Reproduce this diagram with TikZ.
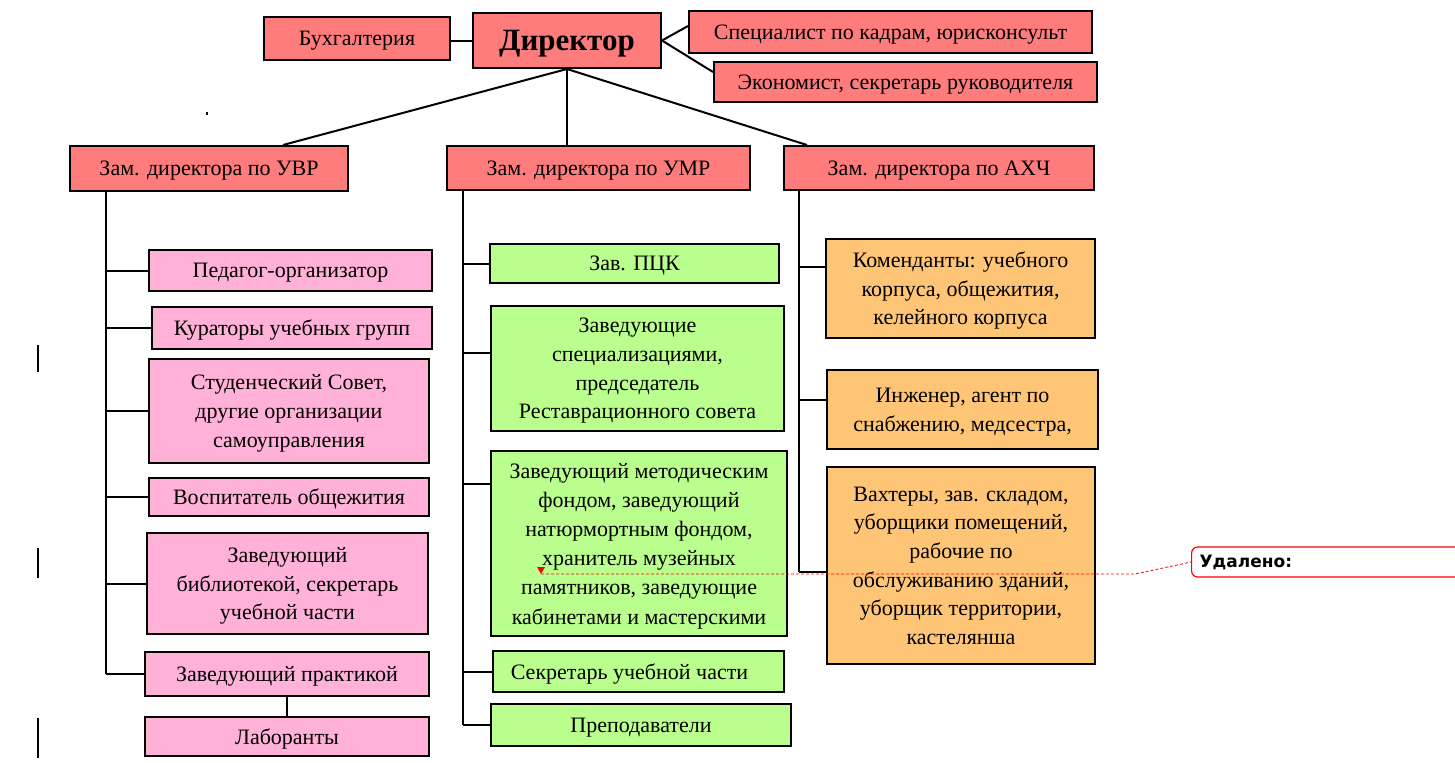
\documentclass[tikz,border=0pt]{standalone}
\usepackage{fontspec}
\setmainfont{Liberation Serif}
\newfontfamily\notefont{DejaVu Sans}
\usetikzlibrary{positioning, calc}

\definecolor{headred}{RGB}{255,124,124}
\definecolor{uvrpink}{RGB}{255,177,215}
\definecolor{umrgreen}{RGB}{186,255,142}
\definecolor{ahchorange}{RGB}{255,197,118}

\begin{document}
\begin{tikzpicture}[
	x=0.5pt, y=-0.5pt,
	box/.style = {draw, line width=1pt, align=center, inner sep=2pt, text depth=0pt, font=\fontsize{11}{14.3}\selectfont},
	head/.style = {box, fill=headred},
	uvrbox/.style = {box, fill=uvrpink},
	umrbox/.style = {box, fill=umrgreen},
	ahchbox/.style = {box, fill=ahchorange},
	link/.style = {line width=1pt},
	change/.style = {line width=1pt},
	note/.style = {red, line width=0.4pt, dash pattern=on 1.5pt off 1pt}
]
\useasboundingbox (0,0) rectangle (1455,762);

% top level
\node[head, minimum width=93pt, minimum height=21.5pt] (buh) at (357,38.5) {Бухгалтерия};
\node[head, minimum width=94pt, minimum height=27.5pt, font=\fontsize{15.5}{18}\selectfont\bfseries] (dir) at (567,40.5) {Директор};
\node[head, minimum width=201.5pt, minimum height=21pt] (kadr) at (890.5,32) {Специалист по кадрам, юрисконсульт};
\node[head, minimum width=191.5pt, minimum height=20pt] (econ) at (905.5,82) {Экономист, секретарь руководителя};

% deputies
\node[head, minimum width=139pt, minimum height=22.5pt] (uvr) at (209,168.5) {Зам. директора по УВР};
\node[head, minimum width=151.5pt, minimum height=22pt] (umr) at (598.5,168) {Зам. директора по УМР};
\node[head, minimum width=155pt, minimum height=22pt] (ahch) at (939,168) {Зам. директора по АХЧ};

% UVR column
\node[uvrbox, minimum width=141.5pt, minimum height=20.5pt] (ped) at (290.5,270.5) {Педагог-организатор};
\node[uvrbox, minimum width=140pt, minimum height=21pt] (kur) at (292,328) {Кураторы учебных групп};
\node[uvrbox, minimum width=140pt, minimum height=52pt] (stud) at (289,411) {Студенческий Совет,\\ другие организации\\ самоуправления};
\node[uvrbox, minimum width=140pt, minimum height=19pt] (vosp) at (289,497) {Воспитатель общежития};
\node[uvrbox, minimum width=140.5pt, minimum height=50.5pt] (bibl) at (287.5,583.5) {Заведующий\\ библиотекой, секретарь\\ учебной части};
\node[uvrbox, minimum width=142pt, minimum height=22pt] (prakt) at (287,674) {Заведующий практикой};
\node[uvrbox, minimum width=142pt, minimum height=19.5pt] (lab) at (287,736.5) {Лаборанты};

% UMR column
\node[umrbox, minimum width=144.5pt, minimum height=19.5pt] (pck) at (634.5,263.5) {Зав. ПЦК};
\node[umrbox, minimum width=146.5pt, minimum height=62.5pt] (spec) at (637.5,368.5) {Заведующие\\ специализациями,\\ председатель\\ Реставрационного совета};
\node[umrbox, minimum width=148pt, minimum height=92.5pt, font=\fontsize{11}{14.6}\selectfont] (met) at (639,543.5) {Заведующий методическим\\ фондом, заведующий\\ натюрмортным фондом,\\ хранитель музейных\\ памятников, заведующие\\ кабинетами и мастерскими};
\node[umrbox, minimum width=145.5pt, minimum height=20.5pt] (sekr) at (638.5,671.5) {Секретарь учебной части\hspace*{9pt}};
\node[umrbox, minimum width=150pt, minimum height=21pt] (prep) at (641,725) {Преподаватели};

% AHCh column
\node[ahchbox, minimum width=134.5pt, minimum height=49.5pt] (kom) at (960.5,288.5) {Коменданты: учебного\\ корпуса, общежития,\\ келейного корпуса};
\node[ahchbox, minimum width=135.5pt, minimum height=39.5pt] (inzh) at (962.5,409.5) {Инженер, агент по\\ снабжению, медсестра,};
\node[ahchbox, minimum width=134pt, minimum height=98.5pt] (vakht) at (961,565.5) {Вахтеры, зав. складом,\\ уборщики помещений,\\ рабочие по\\ обслуживанию зданий,\\ уборщик территории,\\ кастелянша};

% links from the director
\draw[link] (dir.west) -- (dir.west -| buh.east);
\draw[link] (dir.east) -- ([yshift=-8pt]kadr.north west);
\draw[link] (dir.east) -- ([yshift=-5.5pt]econ.north west);
\draw[link] (dir.south) -- ([xshift=37pt]uvr.north);
\draw[link] (dir.south) -- (dir.south |- umr.north);
\draw[link] (dir.south) -- ([xshift=-66pt]ahch.north);

% trunks
\coordinate (uvr trunk) at (106,191);
\coordinate (umr trunk) at (463,190);
\coordinate (ahch trunk) at (799,190);
\coordinate (spec in) at ([yshift=-24pt]spec.north west);
\coordinate (met in) at ([yshift=-17pt]met.north west);
\coordinate (kom in) at ([yshift=-14.5pt]kom.north west);
\coordinate (inzh in) at ([yshift=-15.5pt]inzh.north west);
\coordinate (vakht in) at ([yshift=-53pt]vakht.north west);

\draw[link] (uvr trunk) -- (uvr trunk |- prakt.west);
\draw[link] (uvr trunk |- ped.west) -- (ped.west);
\draw[link] (uvr trunk |- kur.west) -- (kur.west);
\draw[link] (uvr trunk |- stud.west) -- (stud.west);
\draw[link] (uvr trunk |- vosp.west) -- (vosp.west);
\draw[link] (uvr trunk |- bibl.west) -- (bibl.west);
\draw[link] (uvr trunk |- prakt.west) -- (prakt.west);
\draw[link] (prakt) -- (lab);

\draw[link] (umr trunk) -- (umr trunk |- prep.west);
\draw[link] (umr trunk |- pck.west) -- (pck.west);
\draw[link] (umr trunk |- spec in) -- (spec in);
\draw[link] (umr trunk |- met in) -- (met in);
\draw[link] (umr trunk |- sekr.west) -- (sekr.west);
\draw[link] (umr trunk |- prep.west) -- (prep.west);

\draw[link] (ahch trunk) -- (ahch trunk |- vakht in);
\draw[link] (ahch trunk |- kom in) -- (kom in);
\draw[link] (ahch trunk |- inzh in) -- (inzh in);
\draw[link] (ahch trunk |- vakht in) -- (vakht in);

% change bars and stray mark
\draw[change] (38,345) -- (38,372);
\draw[change] (38,548) -- (38,578);
\draw[change] (38,718) -- (38,758);
\fill (206,112) rectangle (208,115);

% deletion balloon
\node[draw=red, line width=0.6pt, rounded corners=3pt, fill=white, anchor=west, minimum height=15pt, text width=140pt, inner xsep=4pt, align=left, font=\notefont\bfseries\fontsize{8.5}{9}\selectfont] (del) at (1191,562) {Удалено:};
\coordinate (mark) at (541,574);
\coordinate (bend) at (1135,574);
\draw[note] (mark) -- (bend) -- (del.west);
\fill[red] (mark) ++(-4,-7) -- ++(8,0) -- ++(-4,7) -- cycle;
\end{tikzpicture}
\end{document}
